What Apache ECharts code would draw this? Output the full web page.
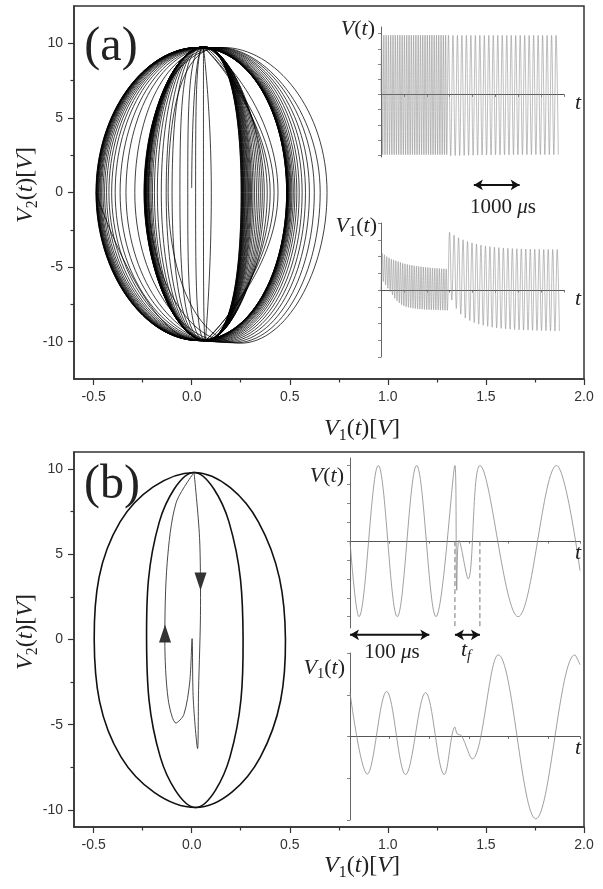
<!DOCTYPE html>
<html><head><meta charset="utf-8">
<script src="https://cdn.jsdelivr.net/npm/echarts@6/dist/echarts.min.js"></script>
<style>html,body{margin:0;padding:0;background:#fff}#c{width:603px;height:889px}</style>
</head><body><div id="c"></div>
<script>
// ---------- axis ticks ----------
const xTickValues = [-0.5, 0, 0.5, 1, 1.5, 2];
const xMinorTicks = [-0.25, 0.25, 0.75, 1.25, 1.75];
const yTickValues = [-10, -5, 0, 5, 10];
const yMinorTicks = [-7.5, -2.5, 2.5, 7.5];

// ---------- panel (a) ----------
const aStart = [0.0, 0.3];                 // start of trajectory (V1, V2)
const aPeriodBefore = 50;                  // us, before switching
const aPeriodAfter = 98;                   // us, after switching
const aPreTop = [0.06, 9.76];
const aPreBottom = [0.07, -9.92];
const aPreRight = [0.44, 0.42, 0.40, 0.385, 0.37, 0.36, 0.35, 0.34, 0.33, 0.32, 0.312, 0.305, 0.30, 0.295, 0.29, 0.286, 0.282, 0.278, 0.274, 0.271, 0.268, 0.265, 0.263, 0.261, 0.259, 0.257, 0.255, 0.253, 0.252];
const aPreLeft = [0.1, 0.06, 0.02, -0.02, -0.06, -0.1, -0.13, -0.155, -0.175, -0.19, -0.2, -0.207, -0.213, -0.218, -0.222, -0.225, -0.228, -0.23, -0.232, -0.234, -0.235, -0.236, -0.237, -0.238, -0.239, -0.24, -0.241, -0.242, -0.243];
const aPostRight = [0.69, 0.655, 0.625, 0.60, 0.58, 0.563, 0.548, 0.536, 0.526, 0.518, 0.511, 0.506, 0.502, 0.498, 0.495, 0.493, 0.491, 0.489, 0.488, 0.487, 0.486, 0.485, 0.485, 0.484, 0.484];
const aPostLeft = [-0.12, -0.22, -0.29, -0.335, -0.365, -0.39, -0.408, -0.422, -0.434, -0.444, -0.452, -0.459, -0.464, -0.468, -0.472, -0.475, -0.478, -0.48, -0.482, -0.484, -0.485, -0.486, -0.487, -0.488, -0.488];
const aPostTopX = [0.16, 0.14, 0.125, 0.11, 0.1, 0.09, 0.08, 0.072, 0.065, 0.06, 0.055, 0.05, 0.047, 0.044, 0.042, 0.04, 0.038, 0.037, 0.036, 0.035, 0.034, 0.034, 0.033, 0.033, 0.033];
const aPostTopY = 9.72;
const aPostBottomX = [0.25, 0.22, 0.19, 0.165, 0.145, 0.128, 0.113, 0.1, 0.09, 0.08, 0.072, 0.065, 0.059, 0.054, 0.05, 0.046, 0.043, 0.041, 0.039, 0.037, 0.036, 0.035, 0.034, 0.034, 0.033];
const aPostBottomY = [-10.1, -10.08, -10.06, -10.04, -10.02, -10.0, -9.99, -9.98, -9.97, -9.96, -9.95, -9.95, -9.94, -9.94, -9.93, -9.93, -9.93, -9.92, -9.92, -9.92, -9.92, -9.92, -9.92, -9.92, -9.92];
const aScaleBar = [2030, 3030];            // 1000 us bar (time units)
const aScaleBarLevel = -14.9;              // in V units of the upper inset

// ---------- panel (b) ----------
const bPreOrbit = [[0.012, 9.8], [0.19, 6.9], [0.262, 0], [0.195, -6.9], [0.02, -9.86], [-0.16, -6.9], [-0.23, 0], [-0.165, 6.9]];
const bPostOrbit = [[0.012, 9.8], [0.34, 6.9], [0.478, 0], [0.35, -6.9], [0.02, -9.86], [-0.36, -6.9], [-0.497, 0], [-0.365, 6.9]];
const bTransition = [[0.012, 9.8], [0.04, 6], [0.045, 2], [0.035, -3], [0.03, -6.4], [0.008, -3.5], [0.002, 0.05], [-0.01, -2.5], [-0.04, -4.4], [-0.08, -4.9], [-0.12, -3.5], [-0.137, 0], [-0.125, 4.5], [-0.08, 8.0], [0.012, 9.8]];
const bArrowDown = [0.045, 3.4];
const bArrowUp = [-0.136, 0.35];
const bVt = [[0, 0], [11.3, -10], [35.7, 10], [59.6, -10], [84, 10], [108.4, -10], [132.3, 10], [134.6, -6.5], [137.5, 0.1], [149, -5], [163.8, 10], [212, -10], [260.4, 10], [290, -3.9]];
const bV1t = [[0, 0.263], [21.8, -0.225], [46.2, 0.27], [70.1, -0.228], [95.3, 0.263], [118.9, -0.228], [132.3, 0.056], [135.2, 0.016], [140.7, 0.004], [154.1, -0.134], [186.9, 0.489], [234.3, -0.493], [283.5, 0.489], [290, 0.43]];
const bTf = [132.3, 163.8];               // us, switching interval
const bTfLevels = [0, -11.3];
const bScaleBar = [0, 100];               // 100 us bar
const bArrowLevel = -12.4;

// ---------- build trajectory tables ----------
const aPath = [aStart];
const aV = [[0, aStart[1]]];
const aV1 = [[0, aStart[0]]];
aPreRight.forEach((r, k) => {
  const T = aPeriodBefore, t0 = k * T;
  aPath.push(aPreTop, [r, 0], aPreBottom, [aPreLeft[k], 0]);
  aV.push([t0 + 0.25 * T, aPreTop[1]], [t0 + 0.75 * T, aPreBottom[1]]);
  aV1.push([t0 + 0.5 * T, r], [t0 + T, aPreLeft[k]]);
});
const aSwitch = aPreRight.length * aPeriodBefore;
aPostRight.forEach((r, k) => {
  const T = aPeriodAfter, t0 = aSwitch + k * T;
  aPath.push([aPostTopX[k], aPostTopY], [r, 0], [aPostBottomX[k], aPostBottomY[k]], [aPostLeft[k], 0]);
  aV.push([t0 + 0.25 * T, aPostTopY], [t0 + 0.75 * T, aPostBottomY[k]]);
  aV1.push([t0 + 0.5 * T, r], [t0 + T, aPostLeft[k]]);
});
const bOrbits = [bPreOrbit, bPostOrbit];
function arrowBar(range, level) {
  return [
    {value: [range[0], level], symbolRotate: 90},
    {value: [range[1], level], symbolRotate: -90}
  ];
}

// ---------- styles ----------
const AX = '#333';
const SERIF = 'Liberation Serif';
function rich(size) {
  return {
    i: {fontFamily: SERIF, fontStyle: 'italic', fontSize: size, lineHeight: size * 1.2, fill: '#222'},
    r: {fontFamily: SERIF, fontSize: size, lineHeight: size * 1.2, fill: '#222'},
    s: {fontFamily: SERIF, fontSize: size * 0.66, lineHeight: size * 0.7, verticalAlign: 'bottom', fill: '#222'},
    si: {fontFamily: SERIF, fontStyle: 'italic', fontSize: size * 0.66, lineHeight: size * 0.7, verticalAlign: 'bottom', fill: '#222'}
  };
}
function label(x, y, text, size, align, rot) {
  return {type: 'text', x, y, rotation: rot || 0, z: 100, silent: true,
    style: {text, rich: rich(size), align: align || 'center', verticalAlign: 'middle', font: size + 'px "' + SERIF + '"', fill: '#222'}};
}
function mainX(g) {
  return [
    {type: 'value', gridIndex: g, min: -0.6, max: 2.0, position: 'bottom',
      axisLine: {onZero: false, lineStyle: {color: AX, width: 1.5}},
      axisTick: {customValues: xTickValues, length: 6, lineStyle: {color: AX, width: 1.2}},
      axisLabel: {customValues: xTickValues, formatter: v => v.toFixed(1), margin: 11, fontSize: 14, color: '#333', fontFamily: 'Liberation Sans'},
      splitLine: {show: false}},
    {type: 'value', gridIndex: g, min: -0.6, max: 2.0, position: 'bottom',
      axisLine: {show: false, onZero: false},
      axisTick: {customValues: xMinorTicks, length: 3.5, lineStyle: {color: AX, width: 1.2}},
      axisLabel: {show: false}, splitLine: {show: false}}
  ];
}
function mainY(g, min, max) {
  return [
    {type: 'value', gridIndex: g, min, max, position: 'left',
      axisLine: {onZero: false, lineStyle: {color: AX, width: 1.5}},
      axisTick: {customValues: yTickValues, length: 6, lineStyle: {color: AX, width: 1.2}},
      axisLabel: {customValues: yTickValues, formatter: v => String(v), margin: 11, fontSize: 14, color: '#333', fontFamily: 'Liberation Sans'},
      splitLine: {show: false}},
    {type: 'value', gridIndex: g, min, max, position: 'left',
      axisLine: {show: false, onZero: false},
      axisTick: {customValues: yMinorTicks, length: 3.5, lineStyle: {color: AX, width: 1.2}},
      axisLabel: {show: false}, splitLine: {show: false}}
  ];
}
function insetX(g, max, interval) {
  return {type: 'value', gridIndex: g, min: 0, max, interval,
    axisLine: {onZero: true, lineStyle: {color: '#555', width: 1}},
    axisTick: {length: 2.5, lineStyle: {color: '#555', width: 0.8}},
    axisLabel: {show: false}, splitLine: {show: false}};
}
function insetY(g, min, max, ticks) {
  return {type: 'value', gridIndex: g, min, max,
    axisLine: {onZero: false, lineStyle: {color: '#666', width: 1}},
    axisTick: {customValues: ticks, length: 3, lineStyle: {color: '#666', width: 0.8}},
    axisLabel: {show: false}, splitLine: {show: false}};
}
function barSeries(xi, yi, range, level) {
  return {type: 'line', xAxisIndex: xi, yAxisIndex: yi, data: arrowBar(range, level), clip: false, silent: true,
    showSymbol: true, showAllSymbol: true, symbol: 'arrow', symbolSize: [8, 9],
    itemStyle: {color: '#111'}, lineStyle: {color: '#111', width: 2}, z: 5};
}

const option = {
  animation: false,
  backgroundColor: '#fff',
  grid: [
    {left: 74, top: 6, width: 510, height: 373, show: true, borderColor: AX, borderWidth: 1.5},
    {left: 381, top: 27, width: 183, height: 130},
    {left: 381, top: 223, width: 183, height: 134},
    {left: 74, top: 452, width: 510, height: 375, show: true, borderColor: AX, borderWidth: 1.5},
    {left: 350, top: 458, width: 230, height: 170},
    {left: 350, top: 653, width: 230, height: 167}
  ],
  xAxis: [
    ...mainX(0),
    insetX(1, 4000, 500), insetX(2, 4000, 500),
    ...mainX(3),
    insetX(4, 290, 50), insetX(5, 290, 50)
  ],
  yAxis: [
    ...mainY(0, -12.5, 12.5),
    insetY(1, -10.3, 11.1, [-10, -7.5, -5, -2.5, 0, 2.5, 5, 7.5, 10]),
    insetY(2, -0.8, 0.8, [-0.8, -0.6, -0.4, -0.2, 0, 0.2, 0.4, 0.6, 0.8]),
    ...mainY(3, -11, 11),
    insetY(4, -11.5, 11, [-10, -7.5, -5, -2.5, 0, 2.5, 5, 7.5, 10]),
    insetY(5, -0.5, 0.5, [-0.5, -0.25, 0, 0.25, 0.5])
  ],
  series: [
    // panel (a) phase portrait
    {type: 'line', xAxisIndex: 0, yAxisIndex: 0, data: aPath, smooth: 0.55, showSymbol: false, silent: true,
      lineStyle: {color: '#000', width: 0.75}},
    // panel (a) insets
    {type: 'line', xAxisIndex: 2, yAxisIndex: 2, data: aV, smooth: 0.36, showSymbol: false, silent: true,
      lineStyle: {color: '#888', width: 0.55}},
    {type: 'line', xAxisIndex: 3, yAxisIndex: 3, data: aV1, smooth: 0.36, showSymbol: false, silent: true,
      lineStyle: {color: '#888', width: 0.55}},
    barSeries(2, 2, aScaleBar, aScaleBarLevel),
    // panel (b) phase portrait: closed orbits
    {type: 'custom', coordinateSystem: 'cartesian2d', xAxisIndex: 4, yAxisIndex: 4, silent: true,
      data: [[0, 0], [1, 0]],
      renderItem: (params, api) => ({
        type: 'polygon',
        shape: {points: bOrbits[params.dataIndex].map(p => api.coord(p)), smooth: 0.375},
        style: {fill: 'none', stroke: '#111', lineWidth: 1.6}
      })},
    {type: 'line', xAxisIndex: 4, yAxisIndex: 4, data: bTransition, smooth: 0.3, showSymbol: false, silent: true,
      lineStyle: {color: '#333', width: 0.9}},
    {type: 'scatter', xAxisIndex: 4, yAxisIndex: 4, data: [bArrowDown], symbol: 'triangle', symbolSize: [12, 18], symbolRotate: 180, silent: true,
      itemStyle: {color: '#000'}},
    {type: 'scatter', xAxisIndex: 4, yAxisIndex: 4, data: [bArrowUp], symbol: 'triangle', symbolSize: [12, 18], silent: true,
      itemStyle: {color: '#000'}},
    // panel (b) insets
    {type: 'line', xAxisIndex: 6, yAxisIndex: 6, data: bVt, smooth: 0.36, showSymbol: false, silent: true,
      lineStyle: {color: '#888', width: 0.8}},
    {type: 'line', xAxisIndex: 6, yAxisIndex: 6, silent: true, showSymbol: false,
      data: [[bTf[0], bTfLevels[0]], [bTf[0], bTfLevels[1]], null, [bTf[1], bTfLevels[0]], [bTf[1], bTfLevels[1]]],
      lineStyle: {color: '#777', width: 1, type: [5, 3]}},
    barSeries(6, 6, bScaleBar, bArrowLevel),
    barSeries(6, 6, bTf, bArrowLevel),
    {type: 'line', xAxisIndex: 7, yAxisIndex: 7, data: bV1t, smooth: 0.36, showSymbol: false, silent: true,
      lineStyle: {color: '#888', width: 0.8}}
  ],
  graphic: [
    label(111, 47, '{r|(a)}', 48),
    label(375, 29, '{i|V}{r|(}{i|t}{r|)}', 22, 'right'),
    label(578, 103, '{i|t}', 22),
    label(377, 226, '{i|V}{s|1}{r|(}{i|t}{r|)}', 22, 'right'),
    label(578, 299, '{i|t}', 22),
    label(503, 207, '{r|1000 }{i|μ}{r|s}', 21),
    label(26, 185, '{i|V}{s|2}{r|(}{i|t}{r|)[}{i|V}{r|]}', 24, 'center', Math.PI / 2),
    label(362, 429, '{i|V}{s|1}{r|(}{i|t}{r|)[}{i|V}{r|]}', 24),
    label(112, 485, '{r|(b)}', 48),
    label(344, 476, '{i|V}{r|(}{i|t}{r|)}', 22, 'right'),
    label(578, 553, '{i|t}', 22),
    label(345, 668, '{i|V}{s|1}{r|(}{i|t}{r|)}', 22, 'right'),
    label(578, 748, '{i|t}', 22),
    label(392, 652, '{r|100 }{i|μ}{r|s}', 21),
    label(466, 650, '{i|t}{si|f}', 22),
    label(26, 632, '{i|V}{s|2}{r|(}{i|t}{r|)[}{i|V}{r|]}', 24, 'center', Math.PI / 2),
    label(362, 866, '{i|V}{s|1}{r|(}{i|t}{r|)[}{i|V}{r|]}', 24)
  ]
};
const chart = echarts.init(document.getElementById('c'), null, {renderer: 'canvas'});
chart.setOption(option);
</script></body></html>
